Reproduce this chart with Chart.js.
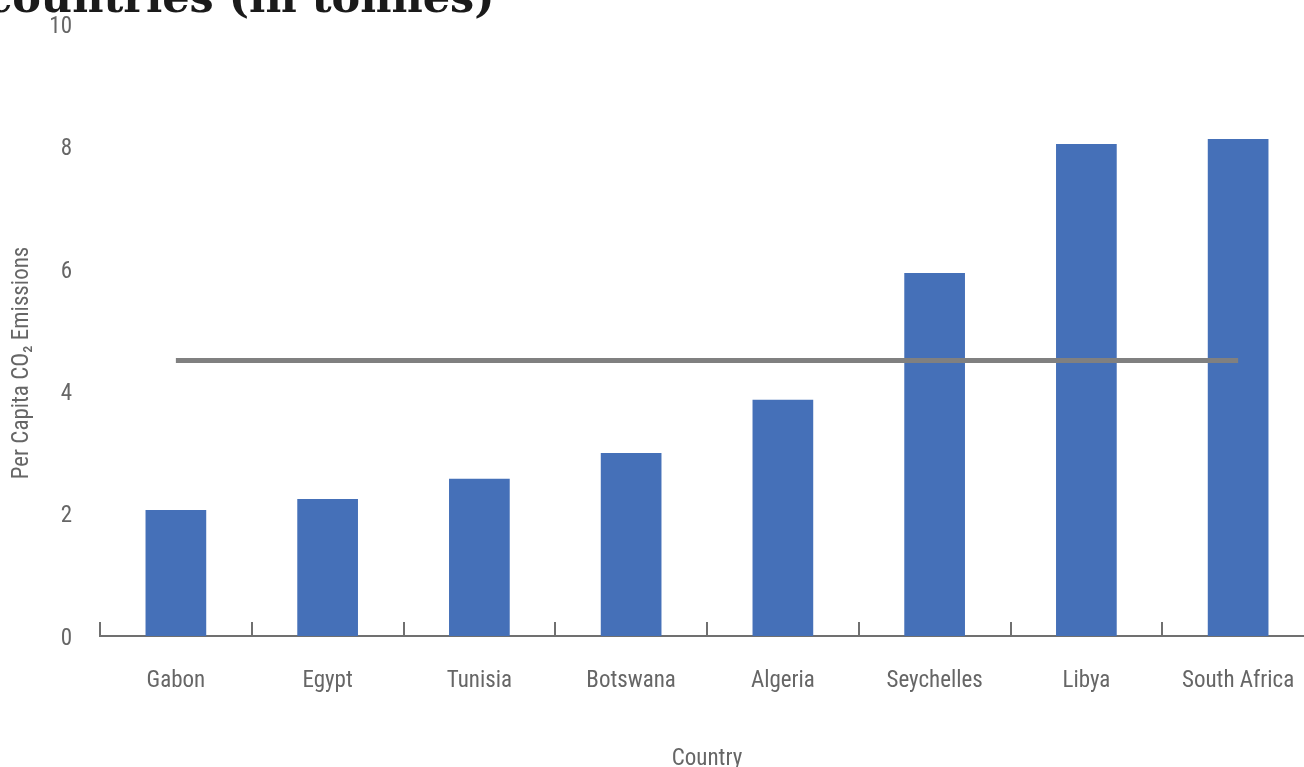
<!DOCTYPE html>
<html lang="en">
<head>
    <meta charset="UTF-8">
    <title>Per Capita CO2 Emissions</title>
    <script src="https://cdn.jsdelivr.net/npm/chart.js"></script>
    <style>
        body {
            margin: 0;
            background: #fff;
            overflow: hidden;
            position: relative;
            width: 1304px;
            height: 767px;
        }

        .title {
            position: absolute;
            left: -14px;
            top: -24px;
            margin: 0;
            font-family: "DejaVu Serif", serif;
            font-weight: bold;
            font-size: 43px;
            line-height: 1;
            color: #1a1a1a;
            white-space: nowrap;
            z-index: 2;
        }

        #co2Chart {
            position: absolute;
            left: 0;
            top: 0;
        }
    </style>
</head>
<body>
    <h1 class="title">countries (in tonnes)</h1>
    <canvas id="co2Chart" width="1314" height="767"></canvas>

    <script>
        const countries = ['Gabon', 'Egypt', 'Tunisia', 'Botswana', 'Algeria', 'Seychelles', 'Libya', 'South Africa'];
        const emissions = [2.06, 2.24, 2.57, 2.99, 3.86, 5.93, 8.04, 8.12];
        const average = [4.5, 4.5, 4.5, 4.5, 4.5, 4.5, 4.5, 4.5];
        const yTicks = [0, 2, 4, 6, 8, 10];

        const labelFont = { family: '"Liberation Sans Narrow", "Roboto Condensed", Arial, sans-serif', size: 23 };
        const textColor = '#666666';
        const axisColor = '#707070';

        // y axis title drawn by hand so it sits where the original had it
        const yTitle = {
            id: 'yTitle',
            afterDraw(chart) {
                const ctx = chart.ctx;
                ctx.save();
                ctx.translate(22, 363);
                ctx.rotate(-Math.PI / 2);
                ctx.font = labelFont.size + 'px ' + labelFont.family;
                ctx.fillStyle = textColor;
                ctx.textAlign = 'center';
                ctx.textBaseline = 'middle';
                ctx.fillText('Per Capita CO\u2082 Emissions', 0, 0);
                ctx.restore();
            }
        };

        new Chart(document.getElementById('co2Chart').getContext('2d'), {
            data: {
                labels: countries,
                datasets: [{
                    type: 'line',
                    label: 'Average',
                    data: average,
                    borderColor: '#808080',
                    borderWidth: 5,
                    pointRadius: 0,
                    fill: false,
                    order: 0
                }, {
                    type: 'bar',
                    label: 'Per Capita CO2 Emissions',
                    data: emissions,
                    backgroundColor: '#4570B8',
                    categoryPercentage: 1,
                    barPercentage: 0.4,
                    order: 1
                }]
            },
            options: {
                responsive: false,
                animation: false,
                layout: { padding: { top: 24, left: 0, right: 0, bottom: 0 } },
                plugins: {
                    legend: { display: false },
                    tooltip: { enabled: false },
                    title: { display: false }
                },
                scales: {
                    x: {
                        offset: true,
                        grid: {
                            offset: true,
                            drawOnChartArea: false,
                            drawTicks: true,
                            tickLength: -14,
                            color: axisColor,
                            lineWidth: 2
                        },
                        border: { display: true, color: axisColor, width: 2 },
                        ticks: { color: textColor, font: labelFont, padding: 45, maxRotation: 0 },
                        title: {
                            display: true,
                            text: 'Country',
                            color: textColor,
                            font: labelFont,
                            padding: { top: 0, bottom: -6 }
                        },
                        afterFit(scale) {
                            scale.height = 131;
                            scale.paddingLeft = 0;
                            scale.paddingRight = 0;
                        }
                    },
                    y: {
                        min: 0,
                        max: 10,
                        afterBuildTicks(scale) { scale.ticks = yTicks.map(v => ({ value: v })); },
                        grid: { display: false },
                        border: { display: false },
                        ticks: { color: textColor, font: labelFont, padding: 20, labelOffset: 3 },
                        afterFit(scale) {
                            scale.width = 100;
                            scale.paddingTop = 0;
                            scale.paddingBottom = 0;
                        }
                    }
                }
            },
            plugins: [yTitle]
        });
    </script>
</body>
</html>
